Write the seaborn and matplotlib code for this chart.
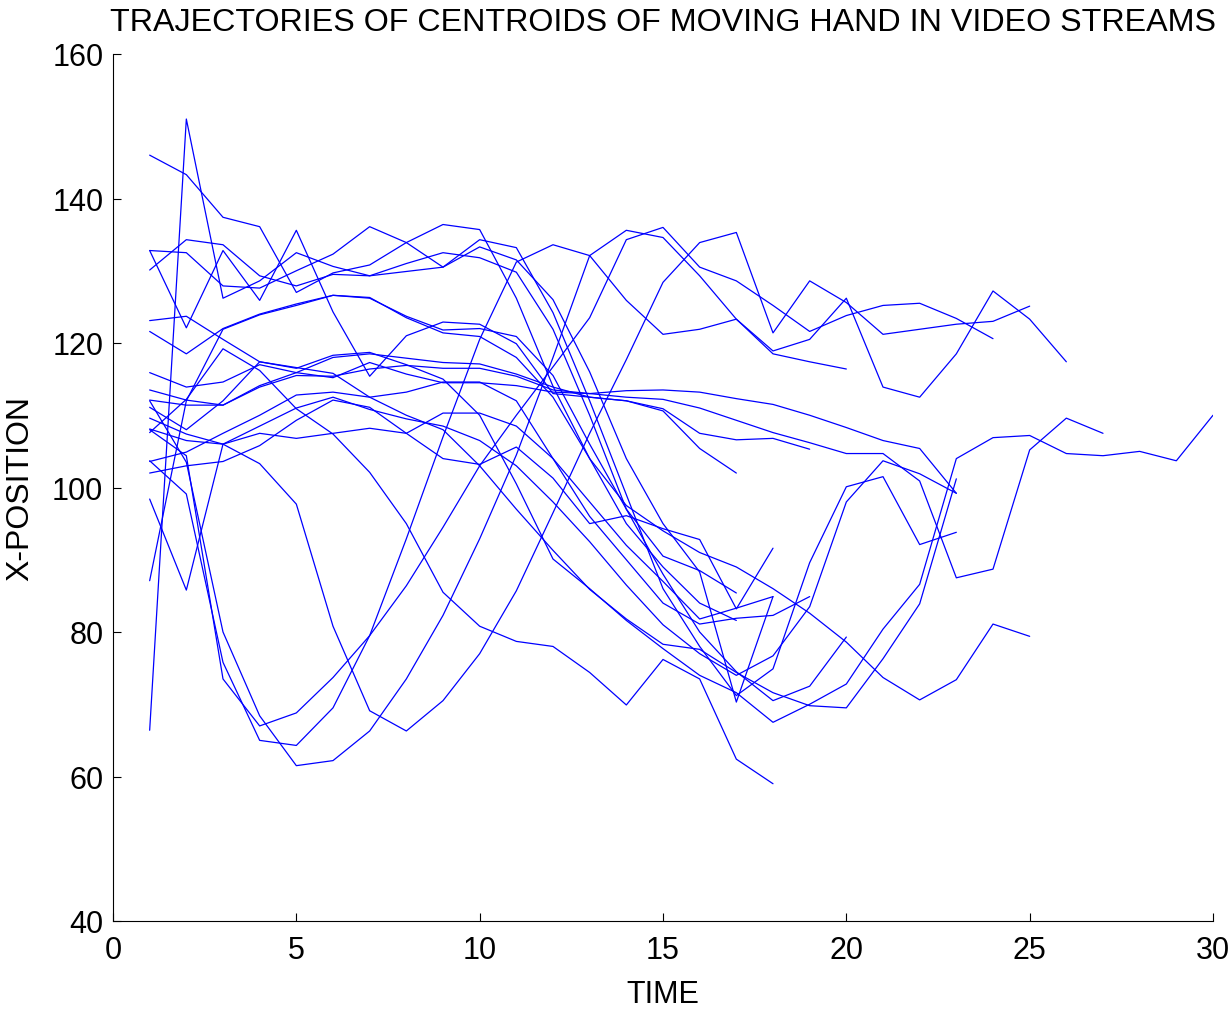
import numpy as np
import pandas as pd
import matplotlib
matplotlib.use("Agg")
import matplotlib.pyplot as plt
import seaborn as sns

# Trajectories (x-position per time step, time starts at 1)
traj_S = [66.4, 151.0, 126.2, 128.6, 132.5, 130.6, 129.3, 129.9, 130.5, 133.3, 131.5, 126.0, 116.0, 104.0, 95.0, 88.3, 70.3, 84.9]
traj_V = [98.4, 85.8, 106.0, 107.5, 106.8, 107.5, 108.2, 107.5, 104.0, 103.2, 105.6, 101.3, 95.0, 96.1, 94.3, 92.8, 83.2, 91.6]
traj_F = [109.6, 107.4, 106.0, 103.3, 97.7, 80.8, 69.1, 66.3, 70.5, 77.0, 85.7, 96.5, 107.5, 117.7, 128.4, 133.9, 135.3, 121.4, 128.6, 125.6, 121.2, 121.9, 122.6, 123.0, 125.1]
traj_G = [112.0, 103.5, 80.0, 68.4, 61.5, 62.2, 66.3, 73.5, 82.3, 92.9, 104.5, 118.0, 132.1, 135.6, 134.6, 129.3, 123.3, 118.9, 120.5, 126.2, 113.9, 112.5, 118.5, 127.2, 123.3, 117.4]
traj_U3 = [108.0, 104.4, 73.5, 67.0, 68.8, 73.7, 79.5, 86.4, 94.5, 103.0, 110.0, 116.7, 123.5, 134.3, 136.0, 130.5, 128.6, 125.2, 121.6, 123.8, 125.2, 125.5, 123.4, 120.6]
traj_W = [103.7, 99.1, 75.8, 65.0, 64.3, 69.5, 79.5, 92.9, 107.0, 120.5, 131.2, 133.6, 132.1, 125.9, 121.2, 121.9, 123.3, 118.5, 117.4, 116.4]
traj_L146 = [146.0, 143.3, 137.4, 136.1, 127.0, 129.7, 130.8, 133.9, 136.4, 135.7, 126.2, 114.0, 104.0, 97.5, 94.0, 91.0, 89.0, 86.0, 82.6, 78.6, 73.7, 70.6, 73.4, 81.1, 79.4]
traj_A1 = [132.8, 132.5, 127.9, 127.6, 130.0, 132.3, 136.1, 133.9, 130.5, 134.3, 133.2, 124.2, 112.0, 99.0, 86.0, 78.0, 71.2, 74.9, 89.6, 100.1, 101.5, 92.1, 93.8]
traj_B2 = [132.8, 122.1, 132.8, 125.9, 135.6, 124.3, 115.4, 121.0, 122.9, 122.6, 119.9, 113.0, 112.5, 112.0, 110.6, 105.4, 102.0]
traj_C = [130.1, 134.3, 133.6, 129.3, 127.9, 129.5, 129.3, 131.0, 132.5, 131.8, 129.8, 121.9, 110.0, 97.0, 88.0, 80.0, 74.5, 70.5, 72.5, 79.3]
traj_K = [121.6, 118.5, 122.0, 124.0, 125.4, 126.6, 126.2, 123.7, 121.8, 122.0, 120.9, 115.5, 106.0, 97.0, 90.5, 88.5, 85.4]
traj_D = [107.6, 112.2, 119.2, 116.2, 110.9, 107.4, 102.1, 95.0, 85.5, 80.8, 78.7, 78.0, 74.4, 69.9, 76.2, 73.5, 62.4, 59.0]
traj_E7 = [111.1, 108.0, 112.0, 117.4, 116.6, 115.8, 112.5, 110.0, 108.0, 103.0, 97.0, 91.3, 85.9, 81.8, 78.3, 77.6, 74.4, 71.6, 69.8, 69.5, 76.3, 83.9, 101.2]
traj_Flat1 = [113.5, 112.1, 111.4, 114.1, 115.9, 118.0, 118.5, 117.9, 117.3, 117.1, 115.7, 113.9, 112.5, 112.0, 110.9, 107.5, 106.6, 106.8, 105.3]
traj_Flat2 = [112.1, 111.4, 111.4, 113.9, 115.5, 115.4, 116.4, 116.9, 116.5, 116.5, 115.4, 113.5, 113.0, 112.5, 112.2, 111.0, 109.3, 107.6, 106.2, 104.7, 104.7, 100.9, 87.5, 88.7, 105.2, 109.6, 107.5]
traj_Flat3 = [115.9, 113.9, 114.6, 117.0, 115.9, 115.2, 117.3, 115.7, 114.5, 114.5, 114.1, 113.2, 113.0, 113.4, 113.5, 113.2, 112.3, 111.5, 110.0, 108.3, 106.5, 105.4, 99.2]
traj_E1 = [123.1, 123.7, 120.5, 117.4, 116.5, 118.3, 118.7, 117.0, 115.0, 110.0, 100.5, 90.1, 86.0, 81.6, 77.7, 74.0, 71.6, 67.5, 70.0, 72.8, 80.4, 86.6, 104.0, 106.9, 107.2, 104.7, 104.4, 105.0, 103.7, 110.0]
traj_L103 = [103.6, 104.9, 107.5, 110.0, 112.8, 113.2, 112.5, 113.2, 114.6, 114.6, 112.0, 104.0, 96.0, 90.0, 84.0, 81.1, 81.9, 82.3, 84.9]
traj_L102 = [102.0, 103.0, 103.6, 105.8, 109.3, 112.1, 111.1, 107.5, 110.3, 110.3, 108.5, 104.0, 98.0, 92.0, 87.0, 81.8, 83.3, 84.9]
traj_L108 = [108.1, 106.5, 106.0, 108.5, 111.0, 112.5, 110.8, 109.5, 108.5, 106.5, 103.0, 98.0, 92.5, 86.5, 81.0, 77.0, 74.0, 76.7, 83.5, 98.0, 103.7, 101.9, 99.2]
traj_L87 = [87.1, 112.0, 121.9, 123.9, 125.2, 126.6, 126.3, 123.5, 121.4, 120.9, 118.0, 112.5, 104.0, 95.0, 89.0, 84.0, 81.6]

trajectories = [traj_S, traj_V, traj_F, traj_G, traj_U3, traj_W, traj_L146, traj_A1,
                traj_B2, traj_C, traj_K, traj_D, traj_E7, traj_Flat1, traj_Flat2,
                traj_Flat3, traj_E1, traj_L103, traj_L102, traj_L108, traj_L87]

rows = []
for i, tr in enumerate(trajectories):
    for t, v in enumerate(tr, start=1):
        rows.append({"traj": i, "time": t, "xpos": v})
df = pd.DataFrame(rows)

sns.set_theme(style="white")
plt.rcParams['font.family'] = ['Liberation Sans', 'DejaVu Sans']
plt.rcParams['text.color'] = 'black'
plt.rcParams['axes.labelcolor'] = 'black'

fig = plt.figure(figsize=(12.32, 10.12), dpi=100)
ax = fig.add_axes([113/1232, 1 - 922/1012, 1100/1232, 867/1012])

sns.lineplot(data=df, x="time", y="xpos", units="traj", estimator=None,
             color="#0000ff", linewidth=0.9, ax=ax, sort=False)

ax.set_xlim(0, 30)
ax.set_ylim(40, 160)
ax.set_xticks(range(0, 31, 5))
ax.set_yticks(range(40, 161, 20))
ax.tick_params(axis="both", direction="in", length=6, width=0.8, labelsize=22,
               colors="black", left=True, bottom=True)
ax.tick_params(axis="x", pad=10)
ax.tick_params(axis="y", pad=7)
for s in ["top", "right"]:
    ax.spines[s].set_visible(False)
for s in ["left", "bottom"]:
    ax.spines[s].set_color("black")
    ax.spines[s].set_linewidth(0.8)

ax.set_xlabel("TIME", fontsize=22, labelpad=10, color="black")
ax.set_ylabel("X-POSITION", fontsize=23, labelpad=12, color="black")
ax.set_title("TRAJECTORIES OF CENTROIDS OF MOVING HAND IN VIDEO STREAMS",
             fontsize=23.2, pad=17, color="black")

fig.savefig("out.png", dpi=100, facecolor="white")
